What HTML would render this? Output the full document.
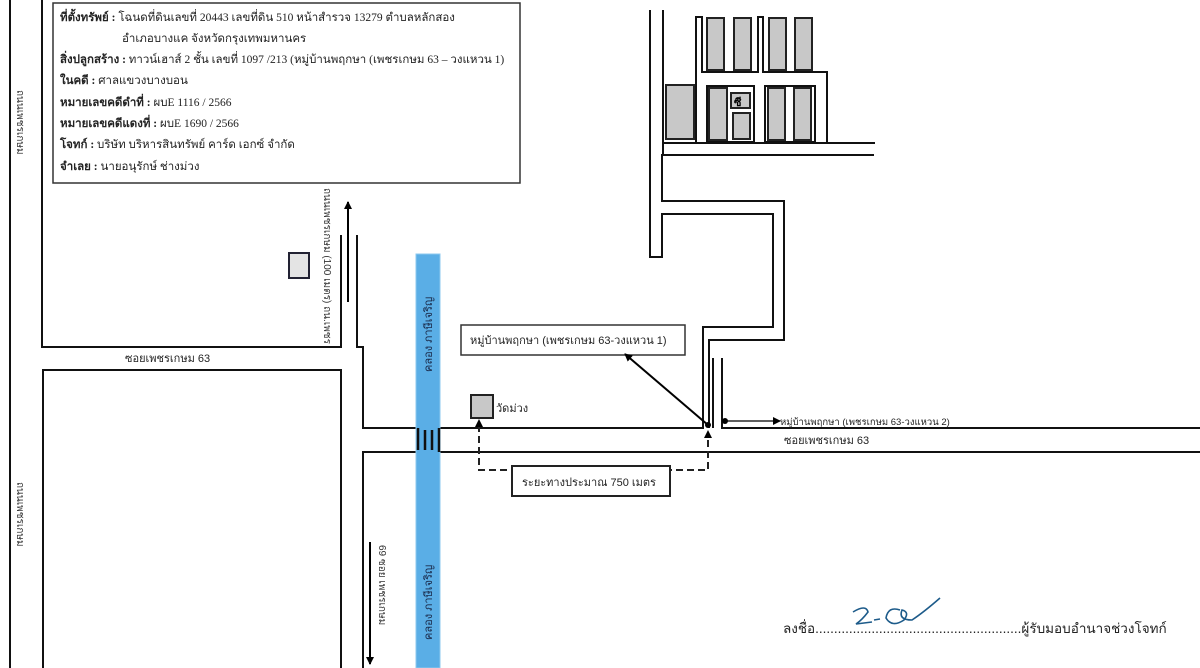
<!DOCTYPE html>
<html><head><meta charset="utf-8"><style>
html,body{margin:0;padding:0;background:#fff;}
svg{display:block}
text{font-family:"Liberation Sans","Noto Sans CJK SC",sans-serif;}
.s{font-family:"Liberation Serif","Noto Serif CJK SC",serif;font-size:11.5px;fill:#222}
</style></head><body>
<svg width="1200" height="668" viewBox="0 0 1200 668" xmlns="http://www.w3.org/2000/svg">
<defs><marker id="ah" markerWidth="8" markerHeight="8" refX="7" refY="4" orient="auto" markerUnits="userSpaceOnUse"><path d="M0,0 L8,4 L0,8 z" fill="#000"/></marker></defs>
<g stroke="#111" stroke-width="2" fill="none">
<line x1="10" y1="0" x2="10" y2="668"/>
<polyline points="42,0 42,347 341,347 341,235"/>
<polyline points="357,235 357,347 363,347 363,428 703,428 703,327 773,327 773,214 662,214 662,257 650,257 650,10"/>
<polyline points="1200,428 722,428 722,358"/>
<line x1="713" y1="358" x2="713" y2="428"/>
<polyline points="709,428 709,340 784,340 784,201 662,201 662,155 874,155"/>
<line x1="663" y1="155" x2="663" y2="10"/>
<polyline points="363,668 363,452 1200,452"/>
<polyline points="43,668 43,370 341,370 341,668"/>
<polyline points="696,143 696,17 702,17 702,72 758,72 758,17 763,17 763,72 827,72 827,143"/>
<line x1="663" y1="143" x2="875" y2="143"/>
</g>
<!-- buildings -->
<g stroke="#222" stroke-width="2" fill="#c8c8c8">
<rect x="707" y="18" width="17" height="52"/><rect x="734" y="18" width="17" height="52"/>
<rect x="769" y="18" width="17" height="52"/><rect x="795" y="18" width="17" height="52"/>
<rect x="666" y="85" width="28" height="54"/>
<rect x="709" y="88" width="18" height="52"/>
<rect x="733" y="113" width="17" height="26"/>
<rect x="731" y="93" width="19" height="15"/>
<rect x="768" y="88" width="17" height="52"/><rect x="794" y="88" width="17" height="52"/>
</g>
<g stroke="#111" stroke-width="2" fill="none">
<rect x="707" y="86" width="47" height="56"/>
<rect x="765" y="86" width="50" height="56"/>
</g>
<text x="734" y="106" font-size="11" font-weight="bold">ซี</text>
<!-- top-left house -->
<rect x="289" y="253" width="20" height="25" fill="#e4e4e4" stroke="#223" stroke-width="2"/>
<!-- arrows -->
<line x1="348" y1="302" x2="348" y2="202" stroke="#000" stroke-width="2" marker-end="url(#ah)"/>
<line x1="370" y1="542" x2="370" y2="664" stroke="#000" stroke-width="2" marker-end="url(#ah)"/>
<!-- river -->
<rect x="416" y="254" width="24" height="414" fill="#5aaee6" stroke="#8cc8ef" stroke-width="1"/>
<g stroke="#111" stroke-width="2.5"><line x1="418" y1="428" x2="418" y2="450"/><line x1="425" y1="430" x2="425" y2="450"/><line x1="432" y1="430" x2="432" y2="450"/><line x1="439" y1="428" x2="439" y2="452"/></g>
<text transform="translate(432,372) rotate(-90)" font-size="11" fill="#1a2a4a">คลอง ภาษีเจริญ</text>
<text transform="translate(432,640) rotate(-90)" font-size="11" fill="#1a2a4a">คลอง ภาษีเจริญ</text>
<!-- vertical labels -->
<text transform="translate(324,188) rotate(90)" font-size="10" fill="#333">ถนนเพชรเกษม (100 เมตร) ถน.เพชร</text>
<text transform="translate(17,90) rotate(90)" font-size="10" fill="#333">ถนนเพชรเกษม</text>
<text transform="translate(17,482) rotate(90)" font-size="10" fill="#333">ถนนเพชรเกษม</text>
<text transform="translate(379,545) rotate(90)" font-size="10" fill="#333">69 ซอย เพชรเกษม</text>
<text x="125" y="362" font-size="11" fill="#222">ซอยเพชรเกษม 63</text>
<text x="784" y="444" font-size="11" fill="#222">ซอยเพชรเกษม 63</text>
<!-- labels -->
<rect x="461" y="325" width="224" height="30" fill="#fff" stroke="#333" stroke-width="1.5"/>
<text x="470" y="344" font-size="11" fill="#222">หมู่บ้านพฤกษา (เพชรเกษม 63-วงแหวน 1)</text>
<line x1="708" y1="425" x2="625" y2="354" stroke="#000" stroke-width="2" marker-end="url(#ah)"/>
<circle cx="708" cy="425" r="3" fill="#000"/>
<circle cx="725" cy="421" r="3" fill="#000"/>
<line x1="725" y1="421" x2="780" y2="421" stroke="#000" stroke-width="1.3" marker-end="url(#ah)"/>
<text x="780" y="425" font-size="9.5" fill="#222">หมู่บ้านพฤกษา (เพชรเกษม 63-วงแหวน 2)</text>
<rect x="471" y="395" width="22" height="23" fill="#c8c8c8" stroke="#222" stroke-width="2"/>
<text x="496" y="412" font-size="11" fill="#222">วัดม่วง</text>
<polyline points="479,425 479,470 708,470 708,436" fill="none" stroke="#222" stroke-width="2" stroke-dasharray="7,4"/>
<polygon points="479,419 475,427 483,427" fill="#000"/>
<polygon points="708,430 704,438 712,438" fill="#000"/>
<rect x="512" y="466" width="158" height="30" fill="#fff" stroke="#222" stroke-width="2"/>
<text x="522" y="486" font-size="11" fill="#222">ระยะทางประมาณ 750 เมตร</text>
<!-- info box -->
<rect x="53" y="3" width="467" height="180" fill="#fff" stroke="#333" stroke-width="1.5"/>
<text class="s" x="60" y="21"><tspan font-weight="bold">ที่ตั้งทรัพย์ :</tspan> โฉนดที่ดินเลขที่ 20443 เลขที่ดิน 510 หน้าสำรวจ 13279 ตำบลหลักสอง</text>
<text class="s" x="122" y="42">อำเภอบางแค จังหวัดกรุงเทพมหานคร</text>
<text class="s" x="60" y="63"><tspan font-weight="bold">สิ่งปลูกสร้าง :</tspan> ทาวน์เฮาส์ 2 ชั้น เลขที่ 1097 /213 (หมู่บ้านพฤกษา (เพชรเกษม 63 – วงแหวน 1)</text>
<text class="s" x="60" y="84"><tspan font-weight="bold">ในคดี :</tspan> ศาลแขวงบางบอน</text>
<text class="s" x="60" y="106"><tspan font-weight="bold">หมายเลขคดีดำที่ :</tspan> ผบE 1116 / 2566</text>
<text class="s" x="60" y="127"><tspan font-weight="bold">หมายเลขคดีแดงที่ :</tspan> ผบE 1690 / 2566</text>
<text class="s" x="60" y="148"><tspan font-weight="bold">โจทก์ :</tspan> บริษัท บริหารสินทรัพย์ คาร์ด เอกซ์ จำกัด</text>
<text class="s" x="60" y="170"><tspan font-weight="bold">จำเลย :</tspan> นายอนุรักษ์ ช่างม่วง</text>
<!-- signature -->
<text x="783" y="633" font-size="13.5" fill="#222">ลงชื่อ.......................................................ผู้รับมอบอำนาจช่วงโจทก์</text>
<path d="M853,612 Q866,604 868,612 Q862,620 856,624 L872,622 M874,620 L880,619 M900,610 Q888,606 886,618 Q892,628 904,620 Q910,612 902,610 Q898,620 912,620 Q924,612 940,598" fill="none" stroke="#1d5b8a" stroke-width="1.6"/>
</svg>
</body></html>
